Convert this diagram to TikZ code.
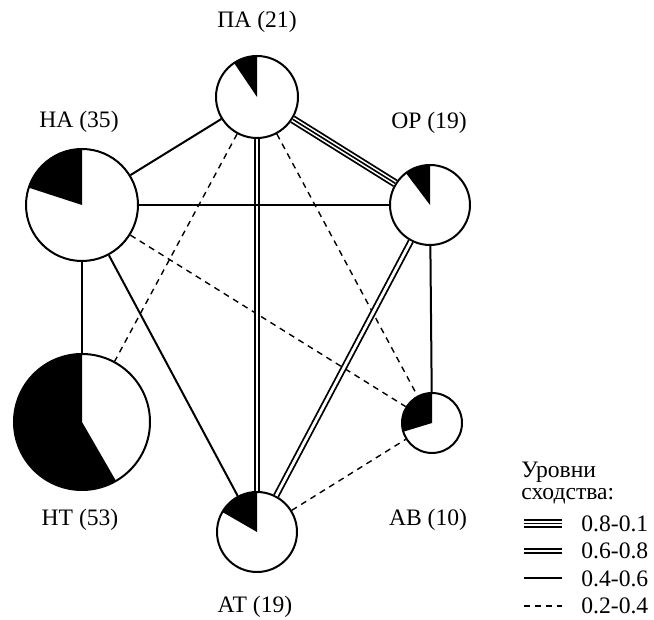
\documentclass[tikz,border=0pt]{standalone}
\usepackage{fontspec}
\setmainfont{Liberation Serif}
\newfontfamily\grfont{Liberation Serif}
\usetikzlibrary{positioning}

\begin{document}
\begin{tikzpicture}[
            x=0.5pt, y=0.5pt,
            font=\grfont\fontsize{11.8}{14}\selectfont,
            vert/.style={circle, draw, fill=white, line width=1pt, inner sep=0pt},
            pie/.style={path picture={\fill[black] (path picture bounding box.center) -- +(90:3cm) arc[start angle=90, end angle=#1, radius=3cm] -- cycle;}},
            lbl/.style={inner sep=0pt},
            weak/.style={line width=0.7pt, dash pattern=on 3pt off 2.5pt},
            mid/.style={line width=1pt},
            strong/.style={double, double distance=1.4pt, line width=0.9pt},
            top/.style={line width=0.8pt, preaction={draw, white, line width=2.4pt, preaction={draw, black, line width=4.2pt}}},
        ]
            \useasboundingbox (0,0) rectangle (654,620);
            % groups
            \node[vert, minimum size=41pt, pie=124] (pa) at (257,523) {};
            \node[vert, minimum size=40pt, pie=127] (op) at (430,415) {};
            \node[vert, minimum size=56pt, pie=162] (na) at (82,415) {};
            \node[vert, minimum size=68pt, pie=300] (nt) at (82,198) {};
            \node[vert, minimum size=40pt, pie=150] (at) at (257,88) {};
            \node[vert, minimum size=30pt, pie=197] (ab) at (432,197) {};
            \node[lbl] (pa-l) at (257,598) {ПА (21)};
            \node[lbl] (op-l) at (429,497) {ОР (19)};
            \node[lbl] (na-l) at (79,498) {НА (35)};
            \node[lbl] (nt-l) at (80,100) {НТ (53)};
            \node[lbl] (ab-l) at (428,100) {АВ (10)};
            \node[lbl] (at-l) at (255,13) {АТ (19)};
            % links
            \draw[weak] (pa) -- (nt);
            \draw[weak] (pa) -- (ab);
            \draw[weak] (na) -- (ab);
            \draw[weak] (at) -- (ab);
            \draw[top] (pa) -- (op);
            \draw[strong] (pa) -- (at);
            \draw[strong] (op) -- (at);
            \draw[mid] (pa) -- (na);
            \draw[mid] (na) -- (op);
            \draw[mid] (na) -- (nt);
            \draw[mid] (na) -- (at);
            \draw[mid] (op) -- (ab);
            % legend
            \node[lbl, anchor=west] (leg1) at (521,148) {Уровни};
            \node[lbl, anchor=west] (leg2) at (521,124) {сходства:};
            \foreach \s/\t [count=\i] in {top/0.8-0.1, strong/0.6-0.8, mid/0.4-0.6, weak/0.2-0.4} {
                \coordinate (k\i a) at (524,124-27.5*\i);
                \coordinate (k\i b) at (562,124-27.5*\i);
                \node[lbl, anchor=west] (v\i) at (581,124-27.5*\i) {\t};
                \draw[\s] (k\i a) -- (k\i b);
            }
        \end{tikzpicture}
\end{document}
